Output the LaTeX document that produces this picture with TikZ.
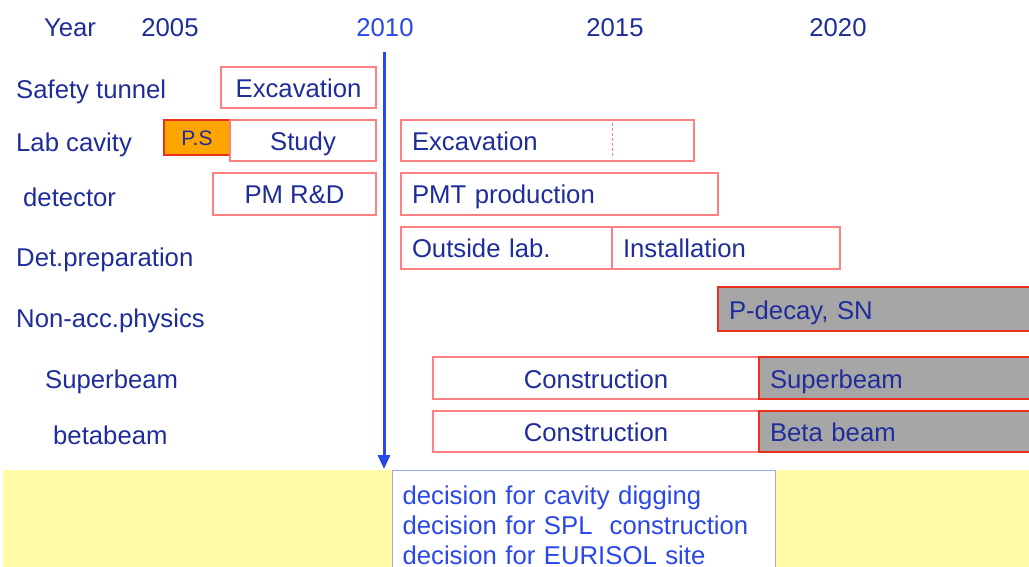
\documentclass[tikz,border=0pt]{standalone}
\usepackage{fontspec}
\setmainfont{Liberation Sans}
\usepackage{xcolor}
\definecolor{tlnavy}{HTML}{1F2D9A}
\definecolor{tlblue}{HTML}{2A48E8}
\definecolor{tlred}{HTML}{FF8080}
\definecolor{tldark}{HTML}{E8321E}
\definecolor{tlgrey}{HTML}{A6A6A6}
\definecolor{tlorange}{HTML}{FFA500}
\definecolor{tlyellow}{HTML}{FFFBA6}
\definecolor{tlframe}{HTML}{A0A8EE}
\usetikzlibrary{positioning,arrows.meta}
\newcommand{\bigfont}{\fontsize{25.7}{30}\selectfont}
\tikzset{
  bar/.style    ={rectangle, draw=tlred, fill=white, line width=1.2pt, minimum height=42,
                  inner sep=0pt, outer sep=0pt, anchor=north west, text=tlnavy, font=\bigfont,
                  text height=22pt, text depth=2pt},
  lbar/.style   ={bar, inner xsep=11pt, text width=#1, align=left},
  gbar/.style   ={lbar=#1, fill=tlgrey, draw=tldark, line width=2pt},
  rowlbl/.style ={anchor=west, text=tlnavy, inner sep=0pt, font=\bigfont},
  yearlbl/.style={text=tlnavy, inner sep=0pt, font=\bigfont},
  decarr/.style ={-{Triangle[length=14pt, width=12pt]}, line width=3pt, draw=tlblue},
}

\begin{document}
\begin{tikzpicture}[x=1pt, y=-1pt]
  \useasboundingbox (0,0) rectangle (1029,567);
  \clip (0,0) rectangle (1029,567);
  % years
  \node[yearlbl] (yyear) at (70,28)  {Year};
  \node[yearlbl] (y05)   at (170,28) {2005};
  \node[yearlbl, text=tlblue] (y10) at (385,28) {2010};
  \node[yearlbl] (y15)   at (615,28) {2015};
  \node[yearlbl] (y20)   at (838,28) {2020};
  % rows
  \node[rowlbl] (rsafe) at (16,92)  {Safety tunnel};
  \node[rowlbl] (rlab)  at (16,145) {Lab cavity};
  \node[rowlbl] (rdet)  at (23,197) {detector};
  \node[rowlbl] (rprep) at (16,260) {Det.preparation};
  \node[rowlbl] (rnon)  at (16,321) {Non-acc.physics};
  \node[rowlbl] (rsb)   at (45,382) {Superbeam};
  \node[rowlbl] (rbb)   at (53,435) {betabeam};
  % decision band
  \fill[tlyellow] (3,470) rectangle (1035,580);
  \node[draw=tlframe, fill=white, line width=1.2pt, anchor=north west, minimum width=383,
        minimum height=110, inner xsep=10pt, inner ysep=7pt, text width=363, align=left,
        text=tlblue, font=\bigfont] (dec) at (392,470)
        {decision for cavity digging\\decision for SPL\ \ construction\\decision for EURISOL site};
  % bars
  \node[bar, minimum width=155, minimum height=41] (safeexc) at (221,67) {Excavation};
  \node[bar, fill=tlorange, draw=tldark, minimum width=66, minimum height=35,
        font=\fontsize{21}{24}\selectfont, text height=17pt, text depth=0.5pt] (ps) at (164,120) {P.S};
  \node[bar, minimum width=146, minimum height=41] (study) at (230,120) {Study};
  \node[lbar=271, minimum height=41] (labexc) at (401,120) {Excavation};
  \draw[tlred, densely dashed, line width=0.8pt] (612,123) -- (612,158);
  \node[bar, minimum width=163] (pmrd) at (213,173) {PM R\&D};
  \node[lbar=295] (pmt) at (401,173) {PMT production};
  \node[lbar=189] (outlab) at (401,227) {Outside lab.};
  \node[lbar=206, right=0pt of outlab] (inst) {Installation};
  \node[gbar=300, minimum height=44] (pdecay) at (718,287) {P-decay, SN};
  \node[bar, minimum width=326] (sbcon) at (433,357) {Construction};
  \node[gbar=259, right=0pt of sbcon] (sbrun) {Superbeam};
  \node[bar, minimum width=326, minimum height=41] (bbcon) at (433,411) {Construction};
  \node[gbar=259, minimum height=41, right=0pt of bbcon] (bbrun) {Beta beam};
  % 2010 milestone
  \coordinate (mtop) at (384,52);
  \coordinate (mbot) at (384,469);
  \draw[decarr] (mtop) -- (mbot);
\end{tikzpicture}
\end{document}
